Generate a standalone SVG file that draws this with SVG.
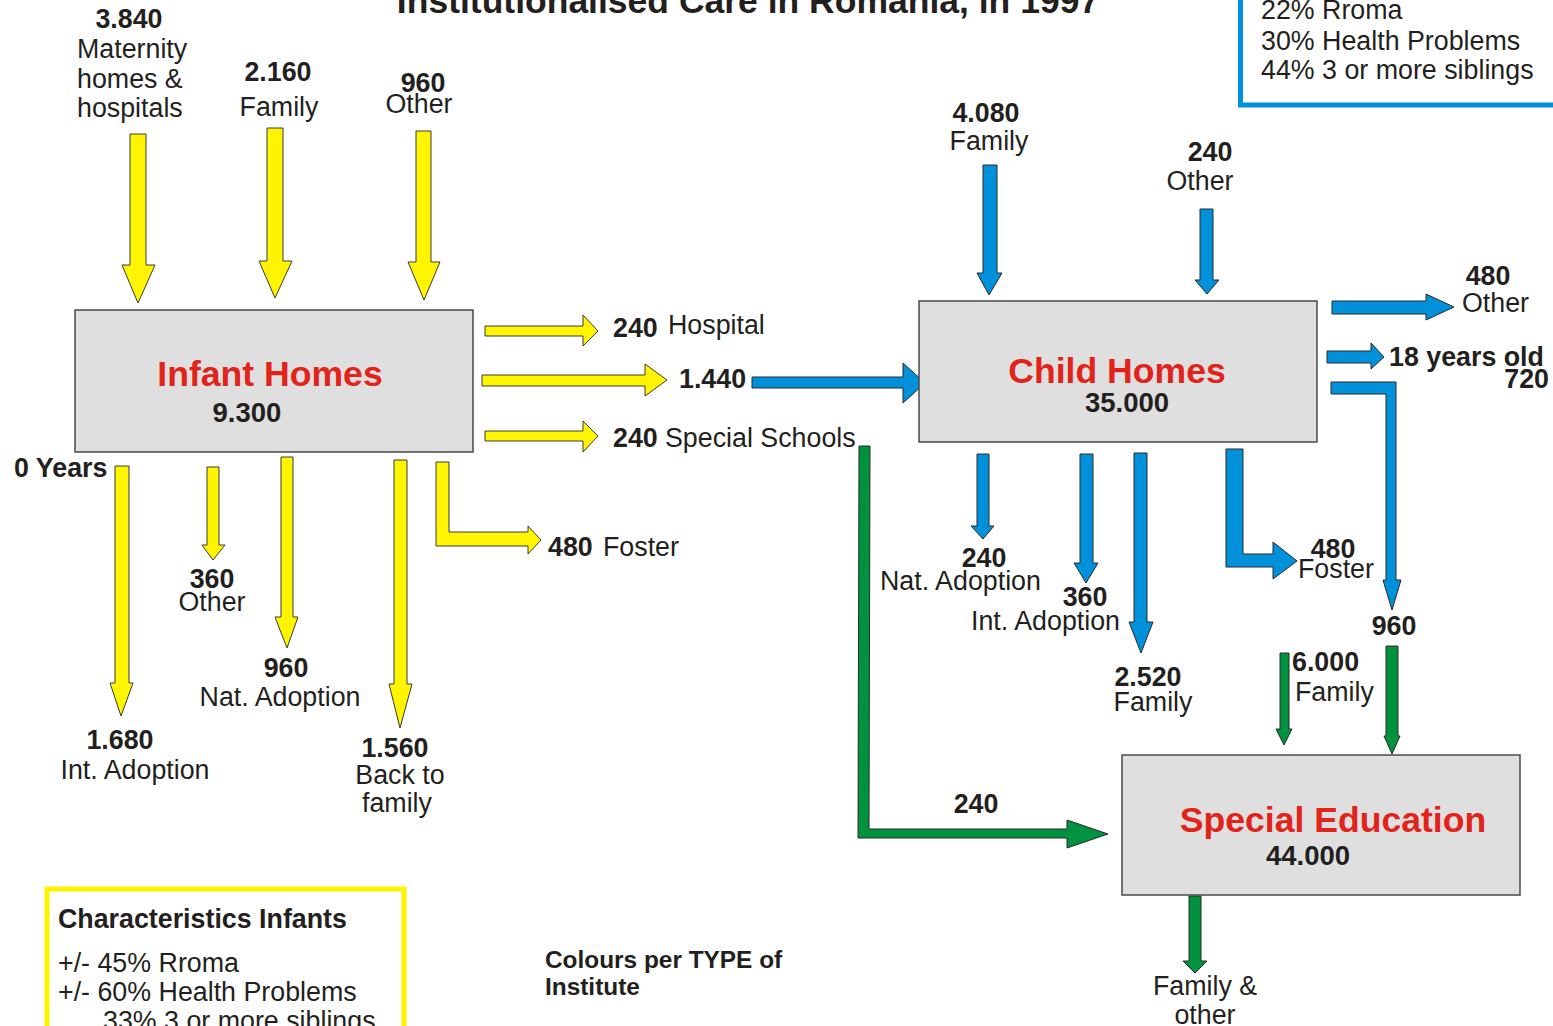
<svg xmlns="http://www.w3.org/2000/svg" width="1553" height="1026" viewBox="0 0 1553 1026">
<style>
text{font-family:"Liberation Sans",Arial,sans-serif;fill:#231f20;font-size:26.8px}
.b{font-weight:bold}
.m{text-anchor:middle}
.e{text-anchor:end}
.ttl{font-weight:bold;fill:#e2231a;font-size:35.6px;text-anchor:middle}
.num{font-weight:bold;font-size:27.5px;text-anchor:middle}
.box{fill:#dfdfdf;stroke:#4a4a4a;stroke-width:1.5}
.y{fill:#fff500;stroke:#3a3a3a;stroke-width:1}
.bl{fill:#0091da;stroke:#2a2a2a;stroke-width:1}
.g{fill:#00923f;stroke:#2a2a2a;stroke-width:1}
</style>
<rect width="1553" height="1026" fill="#ffffff"/>

<g id="title">
<text x="748" y="13" class="b m" style="font-size:35.5px">Institutionalised Care in Romania, in 1997</text>
</g>

<g id="connectors">
<!-- yellow inflows -->
<polygon class="y" points="130,134 146,134 146,265 155,265 138,303 122,265 130,265"/>
<polygon class="y" points="267,128 283,128 283,261 292,261 275,298 259,261 267,261"/>
<polygon class="y" points="416,131 431,131 431,262 440,262 424,300 408,262 416,262"/>
<!-- yellow right -->
<polygon class="y" points="485,326 583,326 583,315 598,331 583,346 583,336 485,336"/>
<polygon class="y" points="482,375 645,375 645,364 667,380 645,396 645,386 482,386"/>
<polygon class="y" points="485,431 583,431 583,421 598,436 583,452 583,441 485,441"/>
<!-- yellow down -->
<polygon class="y" points="115,466 129,466 129,683 133,683 121,716 110,683 115,683"/>
<polygon class="y" points="207,467 219,467 219,545 225,545 213,560 202,545 207,545"/>
<polygon class="y" points="281,457 293,457 293,617 298,617 287,648 275,617 281,617"/>
<polygon class="y" points="394,460 407,460 407,684 412,684 400,728 389,684 394,684"/>
<polygon class="y" points="436,462 449,462 449,532 528,532 528,526 541,540 528,554 528,546 436,546"/>
<!-- blue 1.440 to child homes -->
<polygon class="bl" points="752,377 903,377 903,363 925,383 903,403 903,388 752,388"/>
<!-- green special schools to special education -->
<polygon class="g" points="859,446 870,446 869,829 1067,829 1067,820 1108,834 1067,848 1067,838 858,838"/>
<!-- blue inflows -->
<polygon class="bl" points="983,165 997,165 997,273 1002,273 989,295 977,273 983,273"/>
<polygon class="bl" points="1200,209 1213,209 1213,280 1219,280 1207,294 1195,280 1200,280"/>
<!-- blue right -->
<polygon class="bl" points="1332,301 1426,301 1426,294 1454,307 1426,320 1426,314 1332,314"/>
<polygon class="bl" points="1327,351 1371,351 1371,343 1384,357 1371,369 1371,363 1327,363"/>
<polygon class="bl" points="1331,382 1396,382 1396,580 1401,580 1392,610 1383,580 1386,580 1386,394 1331,394"/>
<!-- blue down -->
<polygon class="bl" points="977,454 989,454 989,526 994,526 983,539 971,526 977,526"/>
<polygon class="bl" points="1080,454 1093,454 1093,563 1098,563 1086,583 1074,563 1080,563"/>
<polygon class="bl" points="1134,453 1147,453 1147,622 1153,622 1141,653 1129,622 1134,622"/>
<polygon class="bl" points="1226,449 1243,449 1243,554 1273,554 1273,542 1297,561 1273,579 1273,567 1226,567"/>
<!-- green -->
<polygon class="g" points="1280,653 1289,653 1289,729 1292,729 1284,745 1276,729 1280,729"/>
<polygon class="g" points="1386,646 1398,646 1398,736 1400,736 1392,754 1384,736 1386,736"/>
<polygon class="g" points="1189,896 1201,896 1201,961 1207,961 1195,973 1183,961 1189,961"/>
</g>

<g id="infant-homes">
<rect class="box" x="75" y="310" width="398" height="142"/>
<text x="270" y="386" class="ttl">Infant Homes</text>
<text x="247" y="422" class="num">9.300</text>
</g>

<g id="child-homes">
<rect class="box" x="919" y="301" width="398" height="141"/>
<text x="1117" y="383" class="ttl">Child Homes</text>
<text x="1127" y="412" class="num">35.000</text>
</g>

<g id="special-education">
<rect class="box" x="1122" y="755" width="398" height="140"/>
<text x="1333" y="832" class="ttl">Special Education</text>
<text x="1308" y="865" class="num">44.000</text>
</g>

<g id="src-maternity">
<text x="129" y="28" class="b m">3.840</text>
<text x="77" y="58">Maternity</text>
<text x="77" y="88">homes &amp;</text>
<text x="77" y="117">hospitals</text>
</g>
<g id="src-family-infant">
<text x="278" y="81" class="b m">2.160</text>
<text x="279" y="116" class="m">Family</text>
</g>
<g id="src-other-infant">
<text x="423" y="92" class="b m">960</text>
<text x="419" y="113" class="m">Other</text>
</g>
<g id="out-hospital">
<text x="613" y="337" class="b">240</text>
<text x="668" y="334">Hospital</text>
</g>
<g id="out-1440">
<text x="679" y="388" class="b">1.440</text>
</g>
<g id="out-special-schools">
<text x="613" y="447" class="b">240</text>
<text x="665" y="447">Special Schools</text>
</g>
<g id="zero-years">
<text x="14" y="477" class="b">0 Years</text>
</g>
<g id="out-foster-infant">
<text x="548" y="556" class="b">480</text>
<text x="603" y="556">Foster</text>
</g>
<g id="out-other-infant">
<text x="212" y="588" class="b m">360</text>
<text x="212" y="611" class="m">Other</text>
</g>
<g id="out-nat-adoption-infant">
<text x="286" y="677" class="b m">960</text>
<text x="280" y="706" class="m">Nat. Adoption</text>
</g>
<g id="out-int-adoption-infant">
<text x="120" y="749" class="b m">1.680</text>
<text x="135" y="779" class="m">Int. Adoption</text>
</g>
<g id="out-back-family">
<text x="395" y="757" class="b m">1.560</text>
<text x="400" y="784" class="m">Back to</text>
<text x="397" y="812" class="m">family</text>
</g>

<g id="src-family-child">
<text x="986" y="122" class="b m">4.080</text>
<text x="989" y="150" class="m">Family</text>
</g>
<g id="src-other-child">
<text x="1210" y="161" class="b m">240</text>
<text x="1200" y="190" class="m">Other</text>
</g>
<g id="out-other-child">
<text x="1488" y="285" class="b m">480</text>
<text x="1462" y="312">Other</text>
</g>
<g id="out-18-years">
<text x="1389" y="366" class="b">18 years old</text>
<text x="1549" y="388" class="b e">720</text>
</g>
<g id="out-nat-adoption-child">
<text x="984" y="567" class="b m">240</text>
<text x="880" y="590">Nat. Adoption</text>
</g>
<g id="out-int-adoption-child">
<text x="1085" y="606" class="b m">360</text>
<text x="971" y="630">Int. Adoption</text>
</g>
<g id="out-family-child">
<text x="1148" y="686" class="b m">2.520</text>
<text x="1153" y="711" class="m">Family</text>
</g>
<g id="out-foster-child">
<text x="1333" y="558" class="b m">480</text>
<text x="1298" y="578">Foster</text>
</g>
<g id="flow-960">
<text x="1394" y="635" class="b m">960</text>
</g>
<g id="src-family-se">
<text x="1292" y="671" class="b">6.000</text>
<text x="1295" y="701">Family</text>
</g>
<g id="flow-240-se">
<text x="976" y="813" class="b m">240</text>
</g>
<g id="out-family-other-se">
<text x="1205" y="995" class="m">Family &amp;</text>
<text x="1205" y="1024" class="m">other</text>
</g>

<g id="legend-infants">
<rect x="47" y="889" width="357" height="200" fill="none" stroke="#fff200" stroke-width="5"/>
<text x="58" y="928" class="b">Characteristics Infants</text>
<text x="58" y="972">+/- 45% Rroma</text>
<text x="58" y="1001">+/- 60% Health Problems</text>
<text x="103" y="1030">33% 3 or more siblings</text>
</g>
<g id="legend-children">
<rect x="1240.5" y="-60" width="400" height="165" fill="none" stroke="#0091da" stroke-width="5"/>
<text x="1261" y="19">22% Rroma</text>
<text x="1261" y="50">30% Health Problems</text>
<text x="1261" y="79">44% 3 or more siblings</text>
</g>
<g id="colours-note">
<text x="545" y="968" class="b" style="font-size:24.4px">Colours per TYPE of</text>
<text x="545" y="995" class="b" style="font-size:24.4px">Institute</text>
</g>
</svg>
